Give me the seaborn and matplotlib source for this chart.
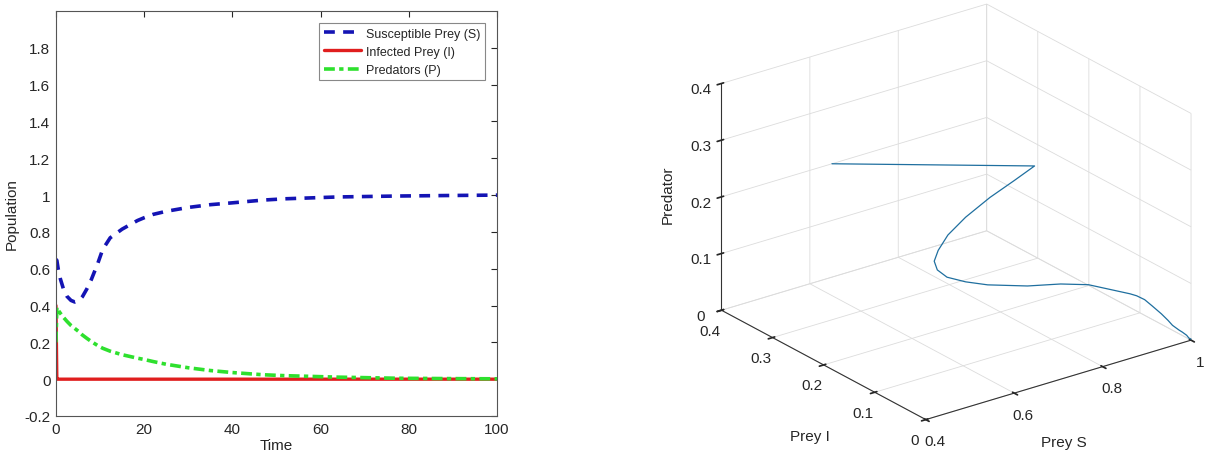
import numpy as np
import pandas as pd
import matplotlib
matplotlib.use("Agg")
import matplotlib.pyplot as plt
import seaborn as sns

# values (time series and 3D trajectory)
time = [0, 0.2, 0.5, 1.0, 1.7, 2.5, 3.4, 4.3, 5.2, 6.0, 7.0, 8.0, 9.5,
        10.6, 12.3, 15.0, 18.5, 20, 22, 25, 30, 35, 40, 47, 52, 64, 77.5,
        90, 100]
prey_s = [0.65, 0.646, 0.60, 0.545, 0.49, 0.45, 0.428, 0.419, 0.426, 0.448,
          0.49, 0.54, 0.63, 0.705, 0.768, 0.815, 0.862, 0.877, 0.895, 0.912,
          0.933, 0.948, 0.958, 0.973, 0.98, 0.99, 0.995, 0.998, 1.0]
prey_i = [0.4, 0.0, 0.0, 0.0, 0.0, 0.0, 0.0, 0.0, 0.0, 0.0, 0.0, 0.0, 0.0,
          0.0, 0.0, 0.0, 0.0, 0.0, 0.0, 0.0, 0.0, 0.0, 0.0, 0.0, 0.0, 0.0,
          0.0, 0.0, 0.0]
predators = [0.20, 0.39, 0.375, 0.358, 0.336, 0.314, 0.292, 0.275, 0.258,
             0.240, 0.222, 0.205, 0.182, 0.168, 0.152, 0.133, 0.114, 0.107,
             0.096, 0.081, 0.062, 0.047, 0.036, 0.024, 0.019, 0.011, 0.005,
             0.003, 0.002]

y_ticks = [-0.2, 0, 0.2, 0.4, 0.6, 0.8, 1, 1.2, 1.4, 1.6, 1.8]
y_tick_labels = ["-0.2", "0", "0.2", "0.4", "0.6", "0.8", "1", "1.2", "1.4",
                 "1.6", "1.8"]
x_ticks = [0, 20, 40, 60, 80, 100]
s_ticks = [0.4, 0.6, 0.8, 1]
s_tick_labels = ["0.4", "0.6", "0.8", "1"]
ip_ticks = [0, 0.1, 0.2, 0.3, 0.4]
ip_tick_labels = ["0", "0.1", "0.2", "0.3", "0.4"]

df = pd.DataFrame({"t": time, "S": prey_s, "I": prey_i, "P": predators})

sns.set_theme(style="white")
plt.rcParams["font.family"] = ["Liberation Sans", "DejaVu Sans"]
dark = "#262626"

fig = plt.figure(figsize=(12.19, 4.64), dpi=100)

# ---- left: time series
ax = fig.add_axes([0.0459, 0.1013, 0.3618, 0.8728])
sns.lineplot(data=df, x="t", y="S", ax=ax, color="#1414b4", linewidth=2.6,
             linestyle=(0, (3, 2.3)), sort=False, estimator=None,
             label="Susceptible Prey (S)")
sns.lineplot(data=df, x="t", y="I", ax=ax, color="#e01e1e", linewidth=2.4,
             sort=False, estimator=None, label="Infected Prey (I)")
sns.lineplot(data=df, x="t", y="P", ax=ax, color="#2ee02e", linewidth=2.6,
             linestyle=(0, (3, 1.2, 1.2, 1.2)), sort=False, estimator=None,
             label="Predators (P)")

ax.set_xlim(0, 100)
ax.set_ylim(-0.2, 2.0)
ax.set_xticks(x_ticks)
ax.set_yticks(y_ticks)
ax.set_yticklabels(y_tick_labels)
ax.set_xlabel("Time", fontsize=11, color=dark, labelpad=2)
ax.set_ylabel("Population", fontsize=11, color=dark, labelpad=4)
ax.tick_params(direction="in", length=4, width=0.8, top=True, right=True,
               labelsize=11, colors=dark, pad=4)
for sp in ax.spines.values():
    sp.set_color("#555555")
    sp.set_linewidth(0.8)
leg = ax.legend(loc="upper right", fontsize=9, frameon=True, fancybox=False,
                framealpha=1, edgecolor="#888888", handlelength=3.0,
                borderpad=0.35, labelspacing=0.5, handletextpad=0.4,
                borderaxespad=0, bbox_to_anchor=(0.973, 0.970))
leg.get_frame().set_linewidth(0.8)

# ---- right: 3D phase trajectory
ax3 = fig.add_axes([0.529, -0.003, 0.5, 1.06], projection="3d")
ax3.plot(df["S"], df["I"], df["P"], color="#1f6f9f", linewidth=0.9)
ax3.set_proj_type("ortho")
ax3.view_init(elev=23.6, azim=-126.8)
ax3.set_box_aspect((1, 1.03, 0.747), zoom=1.058)
ax3.set_xlim(0.4, 1)
ax3.set_ylim(0, 0.4)
ax3.set_zlim(0, 0.4)
ax3.set_xticks(s_ticks)
ax3.set_xticklabels(s_tick_labels)
ax3.set_yticks(ip_ticks)
ax3.set_yticklabels(ip_tick_labels)
ax3.set_zticks(ip_ticks)
ax3.set_zticklabels(ip_tick_labels)
ax3.set_zlabel("Predator", fontsize=11, color=dark, labelpad=0)
# floor-axis labels sit horizontally under the axes, as in the original
fig.text(810 / 1219, 1 - 437 / 464, "Prey I", fontsize=11, color=dark,
         ha="center", va="center")
fig.text(1064 / 1219, 1 - 443 / 464, "Prey S", fontsize=11, color=dark,
         ha="center", va="center")
for axis in (ax3.xaxis, ax3.yaxis, ax3.zaxis):
    axis.set_pane_color((1, 1, 1, 0))
    axis.pane.set_edgecolor("#dddddd")
    axis._axinfo["grid"]["color"] = "#dcdcdc"
    axis._axinfo["grid"]["linewidth"] = 0.6
    axis.line.set_color("#333333")
    axis.line.set_linewidth(0.8)
ax3.tick_params(labelsize=11, colors=dark, pad=0)
ax3.grid(True)

fig.savefig("out.png", dpi=100)
